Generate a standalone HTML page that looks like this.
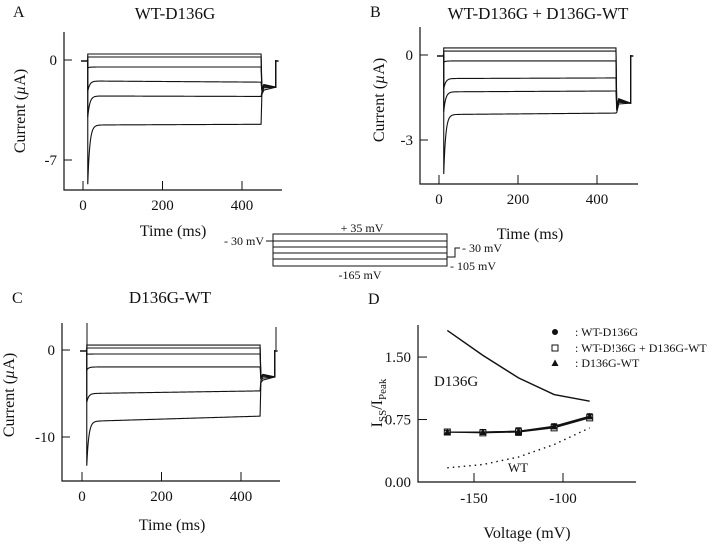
<!DOCTYPE html>
<html><head><meta charset="utf-8"><style>
html,body{margin:0;padding:0;background:#fff;}
svg{display:block;font-family:"Liberation Serif",serif;}
text{fill:#111;}
</style></head><body>
<svg id="fig" width="720" height="544" viewBox="0 0 720 544">
<g id="static" stroke="#111" fill="none" stroke-width="1">
  <text x="13" y="17" font-size="16" stroke="none">A</text>
  <text x="175" y="19" font-size="17" text-anchor="middle" stroke="none">WT-D136G</text>
  <text x="370" y="17" font-size="16" stroke="none">B</text>
  <text x="538" y="19" font-size="17" text-anchor="middle" stroke="none">WT-D136G + D136G-WT</text>
  <text x="12" y="303" font-size="16" stroke="none">C</text>
  <text x="170" y="303" font-size="17" text-anchor="middle" stroke="none">D136G-WT</text>
  <text x="368" y="304" font-size="16" stroke="none">D</text>

  <g>
    <rect x="273" y="234" width="174" height="32"/>
    <line x1="273" y1="241" x2="447" y2="241"/>
    <line x1="273" y1="247" x2="447" y2="247"/>
    <line x1="273" y1="253" x2="447" y2="253"/>
    <line x1="273" y1="259" x2="447" y2="259"/>
    <line x1="266" y1="241" x2="273" y2="241"/>
    <polyline points="447,257 455,257 455,248 460,248"/>
    <text x="362" y="232" font-size="12" text-anchor="middle" stroke="none">+ 35 mV</text>
    <text x="360" y="279" font-size="12" text-anchor="middle" stroke="none">-165 mV</text>
    <text x="264" y="245" font-size="12" text-anchor="end" stroke="none">- 30 mV</text>
    <text x="462" y="252" font-size="12" stroke="none">- 30 mV</text>
    <text x="450" y="270" font-size="12" stroke="none">- 105 mV</text>
  </g>
</g>
<g id="plots"></g>
</svg>
<script>
// ---------- Panel A data ----------
const stepLevelsA = [0.42, 0.21, -0.49, -1.55, -2.55, -4.5];
const earlyLevelsA = [0.42, 0.21, -0.49, -1.47, -2.52, -4.55];
const peakLevelsA = [0.42, 0.21, -0.55, -2.2, -4.0, -8.7];
const tailLevelA = -1.9;
const yTicksA = [0, -7];
// ---------- Panel B data ----------
const stepLevelsB = [0.25, 0.14, -0.21, -0.81, -1.27, -2.05];
const earlyLevelsB = [0.25, 0.14, -0.21, -0.83, -1.3, -2.1];
const peakLevelsB = [0.25, 0.14, -0.25, -1.2, -2.0, -4.2];
const tailLevelB = -1.7;
const yTicksB = [0, -3];
// ---------- Panel C data ----------
const stepLevelsC = [0.57, 0.23, -0.46, -1.95, -4.7, -7.6];
const earlyLevelsC = [0.57, 0.23, -0.46, -1.95, -5.0, -8.2];
const peakLevelsC = [0.57, 0.23, -0.5, -2.3, -6.0, -13.3];
const tailLevelC = -3.1;
const yTicksC = [0, -10];
const timeTicks = [0, 200, 400];
// ---------- Panel D data ----------
const voltages = [-165, -145, -125, -105, -85];
const ratioWTD136G = [0.60, 0.60, 0.61, 0.66, 0.78];
const ratioMix = [0.60, 0.59, 0.60, 0.65, 0.77];
const ratioD136GWT = [0.60, 0.60, 0.61, 0.67, 0.79];
const ratioErr = [0.02, 0.03, 0.04, 0.03, 0.03];
const curveD136G = [1.82, 1.52, 1.25, 1.05, 0.97];
const curveWT = [0.17, 0.21, 0.30, 0.45, 0.65];
const vTicks = [-150, -100];
const rTicks = [0, 0.75, 1.5];
const rTickLabels = ["0.00", "0.75", "1.50"];

const NS = "http://www.w3.org/2000/svg";
const plots = document.getElementById('plots');
function mk(tag, attrs, parent) {
  const e = document.createElementNS(NS, tag);
  for (const k in attrs) e.setAttribute(k, attrs[k]);
  (parent || plots).appendChild(e);
  return e;
}

function tracePanel(cfg, steps, earlys, peaks, tail, yTicks, nm) {
  const g = mk('g', {});
  
  
  const X = t => cfg.x0 + t * (cfg.x400 - cfg.x0) / 400;
  const Yv = v => cfg.y0 + v * (cfg.yT - cfg.y0) / yTicks[1];
  const ax = mk('path', {d:`M${cfg.left},${cfg.top} V${cfg.bottom} H${cfg.right}`, stroke:'#111', fill:'none', 'stroke-width':1.2}, g);
  
  
  yTicks.forEach(v => {
    mk('line', {x1:cfg.left, x2:cfg.left+8, y1:Yv(v), y2:Yv(v), stroke:'#111'}, g);
    const t = mk('text', {x:cfg.left-7, y:Yv(v)+5, 'font-size':15, 'text-anchor':'end'}, g);
    t.textContent = v;
    
    
  });
  timeTicks.forEach(v => {
    mk('line', {x1:X(v), x2:X(v), y1:cfg.bottom, y2:cfg.bottom-9, stroke:'#111'}, g);
    const t = mk('text', {x:X(v), y:cfg.bottom+20, 'font-size':15, 'text-anchor':'middle'}, g);
    t.textContent = v;
    
    
  });
  const yl = mk('text', {transform:`translate(${cfg.ylx},${cfg.yly}) rotate(-90)`, 'font-size':16, 'text-anchor':'middle'}, g);
  yl.innerHTML = 'Current (<tspan font-style="italic">µ</tspan>A)';
  
  
  const xl = mk('text', {x:cfg.xlx, y:cfg.xly, 'font-size':16, 'text-anchor':'middle'}, g);
  xl.textContent = 'Time (ms)';
  
  
  mk('line', {x1:X(-5), x2:X(10), y1:Yv(0)+1, y2:Yv(0)+1, stroke:'#111', 'stroke-width':1.5}, g);
  mk('line', {x1:X(485), x2:X(492), y1:Yv(0)+1, y2:Yv(0)+1, stroke:'#111', 'stroke-width':1.5}, g);
  steps.forEach((ss, i) => {
    let d = `M${X(10)},${Yv(0)} L${X(12)},${Yv(0)} L${X(12)},${Yv(peaks[i])}`;
    for (let t = 12.5; t <= 450; t += (t < 40 ? 0.5 : 4)) {
      const v = ss + (earlys[i] - ss) * (450 - t) / 438 + (peaks[i] - earlys[i]) * Math.exp(-(t - 12) / 5);
      d += ` L${X(t).toFixed(2)},${Yv(v).toFixed(2)}`;
    }
    const tl = tail + (ss - tail) * 0.08;
    d += ` L${X(450)},${Yv(tl - 0.3)} L${X(455)},${Yv(tl)} L${X(485)},${Yv(tail)} L${X(485)},${Yv(0)}`;
    const p = mk('path', {d, stroke:'#111', fill:'none', 'stroke-width':1.1}, g);
    
    
  });
}

tracePanel({left:64, top:32, bottom:190, right:282, x0:83, x400:242, y0:60, yT:160, ylx:25, yly:111, xlx:173, xly:236},
  stepLevelsA, earlyLevelsA, peakLevelsA, tailLevelA, yTicksA, 'panel-a');
tracePanel({left:420, top:27, bottom:184, right:638, x0:439, x400:597, y0:55, yT:140, ylx:384, yly:100, xlx:530, xly:239},
  stepLevelsB, earlyLevelsB, peakLevelsB, tailLevelB, yTicksB, 'panel-b');
tracePanel({left:62, top:323, bottom:481, right:280, x0:82, x400:241, y0:350, yT:437, ylx:14, yly:395, xlx:172, xly:530},
  stepLevelsC, earlyLevelsC, peakLevelsC, tailLevelC, yTicksC, 'panel-c');
mk('line', {x1:87, x2:87, y1:323, y2:350, stroke:'#111'});
mk('line', {x1:276, x2:276, y1:327, y2:350, stroke:'#111'});

// ---------- Panel D ----------
(function(){
  const g = mk('g', {});
  
  
  const X = v => 474 + (v + 150) * 1.78;
  const Y = r => 482 - r * 83.3;
  const ax = mk('path', {d:`M418,325 V482 H636`, stroke:'#111', fill:'none', 'stroke-width':1.2}, g);
  
  
  rTicks.forEach((r, i) => {
    mk('line', {x1:418, x2:427, y1:Y(r), y2:Y(r), stroke:'#111'}, g);
    const t = mk('text', {x:411, y:Y(r)+5, 'font-size':15, 'text-anchor':'end'}, g);
    t.textContent = rTickLabels[i];
    
    
  });
  vTicks.forEach(v => {
    mk('line', {x1:X(v), x2:X(v), y1:482, y2:473, stroke:'#111'}, g);
    const t = mk('text', {x:X(v), y:503, 'font-size':15, 'text-anchor':'middle'}, g);
    t.textContent = v;
    
    
  });
  const xl = mk('text', {x:527, y:538, 'font-size':16, 'text-anchor':'middle'}, g);
  xl.textContent = 'Voltage (mV)';
  
  
  const yl = mk('text', {transform:'translate(382,403) rotate(-90)', 'font-size':16, 'text-anchor':'middle'}, g);
  yl.innerHTML = 'I<tspan font-size="11" dy="4">SS</tspan><tspan dy="-4">/I</tspan><tspan font-size="11" dy="4">Peak</tspan>';
  
  
  let d = voltages.map((v, i) => (i ? 'L' : 'M') + X(v) + ',' + Y(curveD136G[i])).join(' ');
  const c1 = mk('path', {d, stroke:'#111', fill:'none', 'stroke-width':1.4}, g);
  
  
  d = voltages.map((v, i) => (i ? 'L' : 'M') + X(v) + ',' + Y(curveWT[i])).join(' ');
  const c2 = mk('path', {d, stroke:'#111', fill:'none', 'stroke-width':1.4, 'stroke-dasharray':'1.5,4'}, g);
  
  
  const t1 = mk('text', {x:434, y:386, 'font-size':15}, g); t1.textContent = 'D136G';
  
  
  const t2 = mk('text', {x:518, y:472, 'font-size':13, 'text-anchor':'middle'}, g); t2.textContent = 'WT';
  
  
  [[ratioWTD136G,'circle'],[ratioMix,'square'],[ratioD136GWT,'triangle']].forEach(([arr, mkType]) => {
    const dd = voltages.map((v, i) => (i ? 'L' : 'M') + X(v) + ',' + Y(arr[i])).join(' ');
    const ln = mk('path', {d:dd, stroke:'#111', fill:'none', 'stroke-width':1.1}, g);
    
    
    voltages.forEach((v, i) => {
      const cx = X(v), cy = Y(arr[i]), e = ratioErr[i] * 83.3;
      mk('path', {d:`M${cx},${cy-e} V${cy+e} M${cx-3},${cy-e} H${cx+3} M${cx-3},${cy+e} H${cx+3}`, stroke:'#111', fill:'none'}, g);
      let m;
      if (mkType === 'circle') m = mk('circle', {cx, cy, r:3, fill:'#111'}, g);
      else if (mkType === 'square') m = mk('rect', {x:cx-3, y:cy-3, width:6, height:6, fill:'#fff', stroke:'#111'}, g);
      else m = mk('path', {d:`M${cx},${cy-3.5} L${cx+3.5},${cy+3} L${cx-3.5},${cy+3} Z`, fill:'#111'}, g);
      
      
    });
  });
  const leg = [['circle', ': WT-D136G', 332], ['square', ': WT-D!36G + D136G-WT', 348], ['triangle', ': D136G-WT', 363]];
  leg.forEach(([tp, label, y]) => {
    const lg = mk('g', {}, g);
    
    
    if (tp === 'circle') mk('circle', {cx:555, cy:y, r:3, fill:'#111'}, lg);
    else if (tp === 'square') mk('rect', {x:552, y:y-3, width:6, height:6, fill:'#fff', stroke:'#111'}, lg);
    else mk('path', {d:`M555,${y-3.5} L558.5,${y+3} L551.5,${y+3} Z`, fill:'#111'}, lg);
    const t = mk('text', {x:575, y:y+4, 'font-size':12}, lg);
    t.textContent = label;
  });
})();
</script>
</body></html>
